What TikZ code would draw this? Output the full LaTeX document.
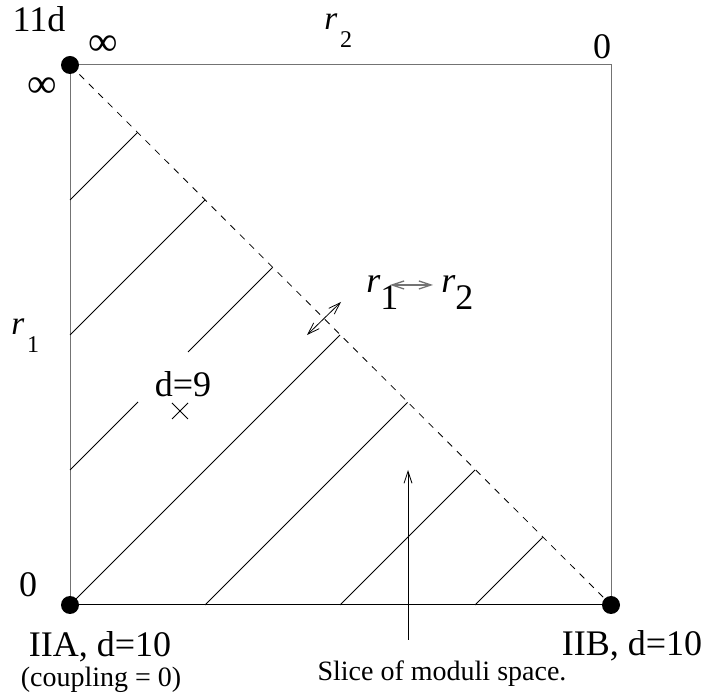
\documentclass[tikz,border=0pt]{standalone}
\usepackage{fontspec}
\setmainfont{Liberation Serif}
\usetikzlibrary{arrows.meta}
\newcommand\rlab[1]{\textit{r}\kern2pt\raisebox{-13.5pt}{\fontsize{18}{20}\selectfont #1}}
\newcommand\rbig[1]{\textit{r}\raisebox{-12.5pt}{#1}}
\begin{document}
\begin{tikzpicture}[x=0.75pt,y=-0.75pt,
  dot/.style={circle,fill=black,inner sep=0pt,minimum size=13.5pt},
  edge/.style={draw=black!55,line width=0.75pt},
  hatch/.style={line width=0.6pt},
  big/.style={font=\fontsize{27}{32}\selectfont,inner sep=0pt},
  inf/.style={font=\fontsize{31}{34}\selectfont,inner sep=0pt},
  rl/.style={font=\fontsize{25}{30}\selectfont,inner sep=0pt,anchor=base west},
  small/.style={font=\fontsize{21}{25}\selectfont,inner sep=0pt},
  barb/.style={line width=0.6pt,-{Straight Barb[length=9pt,width=6pt]}},
  dbarb/.style={line width=0.6pt,{Straight Barb[length=9pt,width=6pt]}-{Straight Barb[length=9pt,width=6pt]}}]
\useasboundingbox (0,0) rectangle (708,698);
% corners
\coordinate (TL) at (70,65);
\coordinate (TR) at (611,65);
\coordinate (BR) at (611,605);
\coordinate (BL) at (70,605);
% square
\draw[edge] (BL) -- (TL) -- (TR) -- (BR);
\draw[line width=0.75pt] (BL) -- (BR);
\draw[line width=0.6pt,dash pattern=on 5pt off 5pt] (TL) -- (BR);
% hatching
\draw[hatch] (70,200) -- (137.5,132.5);
\draw[hatch] (70,335) -- (205,200);
\draw[hatch] (70,470) -- (138,402);
\draw[hatch] (188,352) -- (272.5,267.5);
\draw[hatch] (70,605) -- (340,335);
\draw[hatch] (205,605) -- (407.5,402.5);
\draw[hatch] (340,605) -- (475,470);
\draw[hatch] (475,605) -- (542.5,537.5);
% dots
\node[dot] (dTL) at (TL) {};
\node[dot] (dBL) at (BL) {};
\node[dot] (dBR) at (BR) {};
% labels
\node[big,anchor=base] (l11d) at (39,32) {11d};
\node[inf] (infT) at (103,46) {∞};
\node[inf] (infL) at (42,88) {∞};
\node[big] (zTR) at (602,47) {0};
\node[big] (zBL) at (28,585) {0};
\node[rl] (r2top) at (324,30) {\rlab{2}};
\node[rl] (r1left) at (11,335) {\rlab{1}};
\node[big] (d9) at (183,384) {d=9};
\node[big,anchor=base] (iia) at (100,657) {IIA, d=10};
\node[small,anchor=base] (coup) at (101,687) {(coupling = 0)};
\node[big,anchor=base] (iib) at (632,656) {IIB, d=10};
\node[small,anchor=base] (slice) at (442,681) {Slice of moduli space.};
\node[big,anchor=base west] (r1m) at (366,293) {\rbig{1}};
\node[big,anchor=base west] (r2m) at (441,293) {\rbig{2}};
% cross mark
\coordinate (X) at (180,411);
\draw[line width=0.6pt] ([shift={(-8,-8)}]X) -- ([shift={(8,8)}]X);
\draw[line width=0.6pt] ([shift={(-8,8)}]X) -- ([shift={(8,-8)}]X);
% arrows
\coordinate (sa) at (408,640);
\coordinate (sb) at (408,470);
\draw[barb] (sa) -- (sb);
\coordinate (da) at (307,335);
\coordinate (db) at (341,302);
\draw[dbarb] (da) -- (db);
\coordinate (ma) at (390,285);
\coordinate (mb) at (433,285);
\draw[dbarb,line width=1pt,draw=black!55] (ma) -- (mb);
\end{tikzpicture}
\end{document}
